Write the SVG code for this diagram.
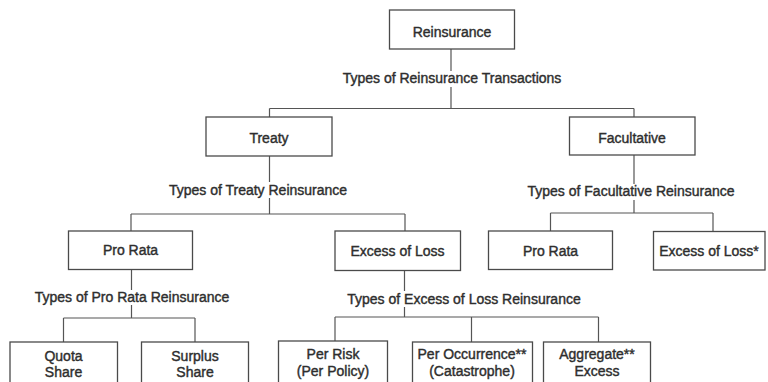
<svg xmlns="http://www.w3.org/2000/svg" width="768" height="382" viewBox="0 0 768 382">
<style>
.box{fill:#fff;stroke:#4a4a4a;stroke-width:1.3}
.ln{fill:none;stroke:#555;stroke-width:1.2}
text{font-family:"Liberation Sans",Arial,sans-serif;font-size:14px;fill:#2e2e2e;stroke:#2e2e2e;stroke-width:0.4;text-anchor:middle}
</style>
<rect width="768" height="382" fill="#fff"/>
<g id="connectors">
<path class="ln" d="M451 49V71M451 87V108.5M269.5 108.5H634M269.5 108.5V117M634 108.5V117"/>
<path class="ln" d="M269.5 156V182M269.5 198V214M131 214H405M131 214V231M405 214V231"/>
<path class="ln" d="M634 155V184M634 200V213M550.5 213H713M550.5 213V231M713 213V231"/>
<path class="ln" d="M131.5 269V290M131.5 305V318M63.5 318H195M63.5 318V342M195 318V342"/>
<path class="ln" d="M404.5 270V291M404.5 307V317M335 317H598.5M335 317V341M471.5 317V342M598.5 317V342"/>
</g>
<g id="reinsurance"><rect class="box" x="389.5" y="10" width="125" height="39"/><text x="452" y="36.5">Reinsurance</text></g>
<g id="label-transactions"><text x="452" y="83">Types of Reinsurance Transactions</text></g>
<g id="treaty"><rect class="box" x="206" y="117" width="126" height="39"/><text x="269" y="142.5">Treaty</text></g>
<g id="facultative"><rect class="box" x="569.5" y="117" width="125.5" height="38"/><text x="632" y="143">Facultative</text></g>
<g id="label-treaty"><text x="258" y="194.5">Types of Treaty Reinsurance</text></g>
<g id="label-facultative"><text x="631" y="196">Types of Facultative Reinsurance</text></g>
<g id="treaty-pro-rata"><rect class="box" x="68.5" y="231" width="124" height="38.5"/><text x="130.5" y="255">Pro Rata</text></g>
<g id="treaty-excess"><rect class="box" x="335" y="231" width="125.5" height="39.5"/><text x="397.5" y="256">Excess of Loss</text></g>
<g id="fac-pro-rata"><rect class="box" x="488.5" y="231" width="124" height="38.5"/><text x="550.5" y="255.5">Pro Rata</text></g>
<g id="fac-excess"><rect class="box" x="653.5" y="231.5" width="111.5" height="38.5"/><text x="709" y="256">Excess of Loss*</text></g>
<g id="label-pro-rata"><text x="132" y="301.5">Types of Pro Rata Reinsurance</text></g>
<g id="label-excess"><text x="464" y="303.5">Types of Excess of Loss Reinsurance</text></g>
<g id="quota-share"><rect class="box" x="10" y="342" width="107.5" height="60"/><text x="63.5" y="360.5">Quota</text><text x="63.5" y="377">Share</text></g>
<g id="surplus-share"><rect class="box" x="141.5" y="342" width="107" height="60"/><text x="195" y="360.5">Surplus</text><text x="195" y="377">Share</text></g>
<g id="per-risk"><rect class="box" x="278.5" y="341" width="109" height="60"/><text x="333" y="359">Per Risk</text><text x="333" y="376">(Per Policy)</text></g>
<g id="per-occurrence"><rect class="box" x="412.5" y="342" width="120" height="60"/><text x="472" y="359">Per Occurrence**</text><text x="472" y="376">(Catastrophe)</text></g>
<g id="aggregate"><rect class="box" x="543.5" y="342" width="107" height="60"/><text x="597" y="359">Aggregate**</text><text x="597" y="376">Excess</text></g>
</svg>
